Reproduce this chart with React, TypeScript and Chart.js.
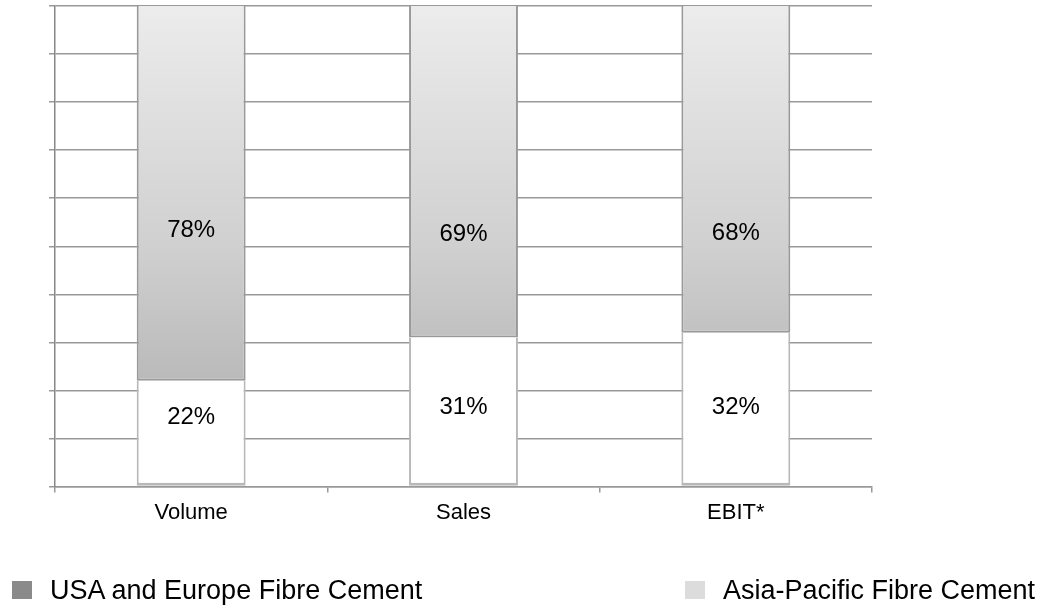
import React, { useEffect, useRef } from "react";
import { Chart, registerables } from "chart.js";

Chart.register(...registerables);

const categories = ["Volume", "Sales", "EBIT*"];
const asiaPacific = [22, 31, 32];
const usaEurope = [78, 69, 68];
// vertical anchor (in % of the axis) where each segment's label sits
const asiaLabelAt = [14.4, 16.5, 16.5];
const usaLabelAt = [53.3, 52.4, 52.7];
const yTicks = [0, 10, 20, 30, 40, 50, 60, 70, 80, 90, 100];

const legendItems = [
  { label: "USA and Europe Fibre Cement", color: "#8a8a8a" },
  { label: "Asia-Pacific Fibre Cement", color: "#dcdcdc" },
];

const FONT = "'Liberation Sans', Arial, Helvetica, sans-serif";

export default function App() {
  const ref = useRef<HTMLCanvasElement | null>(null);

  useEffect(() => {
    if (!ref.current) return;
    const labelPlugin = {
      id: "segLabels",
      afterDatasetsDraw(chart: any) {
        const c = chart.ctx;
        const ys = chart.scales.y;
        c.save();
        c.font = `24px ${FONT}`;
        c.fillStyle = "#000";
        c.textAlign = "center";
        c.textBaseline = "middle";
        const anchors = [asiaLabelAt, usaLabelAt];
        chart.data.datasets.forEach((ds: any, di: number) => {
          const meta = chart.getDatasetMeta(di);
          meta.data.forEach((el: any, i: number) => {
            const y = ys.getPixelForValue(anchors[di][i]);
            c.fillText(`${ds.data[i]}%`, el.x, y);
          });
        });
        c.restore();
      },
    };

    const chart = new Chart(ref.current, {
      type: "bar",
      data: {
        labels: categories,
        datasets: [
          {
            label: legendItems[1].label,
            data: asiaPacific,
            backgroundColor: "#ffffff",
            borderColor: "#b8b8b8",
            borderWidth: { left: 2, right: 2, top: 0, bottom: 3 },
            borderSkipped: false,
            barPercentage: 0.4,
            categoryPercentage: 1,
          },
          {
            label: legendItems[0].label,
            data: usaEurope,
            backgroundColor: (ctx: any) => {
              const { chart } = ctx;
              const area = chart.chartArea;
              if (!area) return "#cccccc";
              const g = chart.ctx.createLinearGradient(0, area.top, 0, area.bottom);
              g.addColorStop(0, "#ececec");
              g.addColorStop(0.5, "#d0d0d0");
              g.addColorStop(1, "#a8a8a8");
              return g;
            },
            borderColor: "#999999",
            borderWidth: { left: 2, right: 2, top: 0, bottom: 2 },
            borderSkipped: false,
            barPercentage: 0.4,
            categoryPercentage: 1,
          },
        ],
      },
      options: {
        animation: false,
        responsive: false,
        layout: { padding: { left: 49, right: 171, top: 6, bottom: 81 } },
        plugins: {
          legend: { display: false },
          tooltip: { enabled: false },
        },
        scales: {
          x: {
            stacked: true,
            offset: true,
            grid: {
              offset: true,
              drawOnChartArea: false,
              drawTicks: true,
              tickLength: 6,
              color: "#999999",
              lineWidth: 1.5,
            },
            border: { display: true, color: "#999999", width: 1.5 },
            ticks: {
              color: "#000",
              padding: 7,
              font: { family: FONT, size: 22 },
            },
          },
          y: {
            stacked: true,
            min: 0,
            max: 100,
            afterBuildTicks: (axis: any) => {
              axis.ticks = yTicks.map((v) => ({ value: v }));
            },
            grid: {
              color: "#999999",
              lineWidth: 1.5,
              drawTicks: true,
              tickLength: 6,
            },
            border: { display: true, color: "#888888", width: 1.5 },
            ticks: { display: false },
          },
        },
      },
      plugins: [labelPlugin],
    });
    return () => chart.destroy();
  }, []);

  return (
    <div style={{ position: "absolute", left: 0, top: 0, width: 1043, height: 614, background: "#fff", fontFamily: FONT }}>
      <canvas ref={ref} width={1043} height={614} style={{ display: "block" }} />
      <div style={{ position: "absolute", left: 12, top: 576, display: "flex", alignItems: "center", height: 28 }}>
        <div style={{ width: 20, height: 18, background: legendItems[0].color, marginRight: 18 }} />
        <span style={{ fontSize: 27, color: "#000", whiteSpace: "nowrap" }}>{legendItems[0].label}</span>
      </div>
      <div style={{ position: "absolute", right: 8, top: 576, display: "flex", alignItems: "center", height: 28 }}>
        <div style={{ width: 20, height: 18, background: legendItems[1].color, marginRight: 18 }} />
        <span style={{ fontSize: 27, color: "#000", whiteSpace: "nowrap" }}>{legendItems[1].label}</span>
      </div>
    </div>
  );
}
